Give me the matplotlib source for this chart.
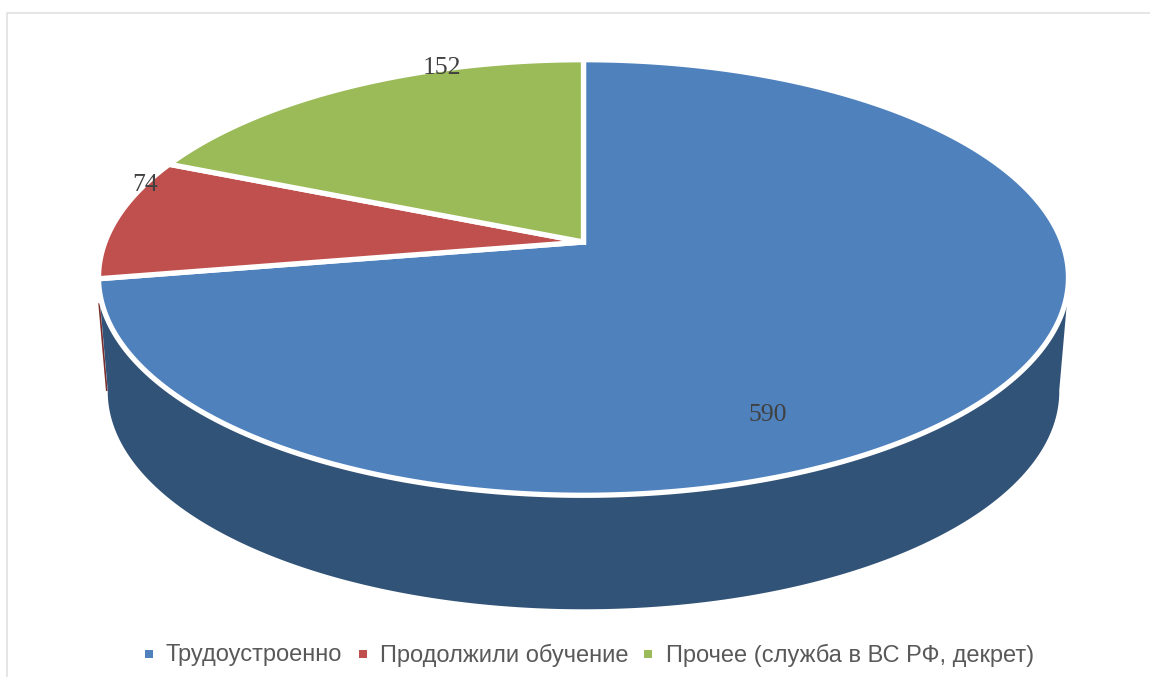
#!/usr/bin/env python3
import numpy as np
import matplotlib
matplotlib.use('Agg')
import matplotlib.pyplot as plt

# Chart data
categories = ['Трудоустроенно', 'Продолжили обучение', 'Прочее (служба в ВС РФ, декрет)']
values = [590, 74, 152]
colors = ['#4f81bd', '#c0504d', '#9bbb59']
wall_color = '#325378'
wall_red = '#7a2e2c'

# Pie geometry in image pixels
APEX_X, APEX_Y = 583.5, 242
PERSP = 0.163
RX = 478.5
RY = 212
WALL_DEPTH = 114
label_pos = [(768, 415), (145, 185), (442, 68)]
legend_marker_x = [149, 363, 648]
legend_text_x = [165, 380, 666]
legend_y = 654


def project(theta):
    # theta runs clockwise from twelve o'clock, tilted circle with some perspective
    u = np.sin(theta)
    v = np.cos(theta)
    d = 1 + PERSP * v
    return APEX_X + RX * u / d, APEX_Y - RY * v / d


fig = plt.figure(figsize=(11.5, 6.77), dpi=100)
ax = fig.add_axes([0, 0, 1, 1])
ax.set_xlim(0, 1150)
ax.set_ylim(677, 0)
ax.axis('off')

# Chart frame
ax.plot([7, 7, 1150], [677, 13, 13], color='#e0e0e0', lw=1.2, zorder=1)

# Side wall: rim of the front half joined to the same rim pushed down
theta = np.linspace(np.pi * 0.59, np.pi * 1.41, 300)
rim_x, rim_y = project(theta)
rim_x = APEX_X + (rim_x - APEX_X) * 1.004
low = np.linspace(np.pi * 0.5, np.pi * 1.5, 300)
low_x, low_y = project(low)
low_x = APEX_X + (low_x - APEX_X) * 0.981
low_y = low_y + WALL_DEPTH
keep = low_y > 390
ax.plot([rim_x[-1] - 1, low_x[keep][-1] - 1], [rim_y[-1], low_y[keep][-1]],
        color=wall_red, lw=1.2, zorder=2)
ax.fill(np.r_[rim_x, low_x[keep][::-1]], np.r_[rim_y, low_y[keep][::-1]],
        color=wall_color, lw=0, zorder=3)

# Top face, slices go clockwise from twelve o'clock
angles = np.cumsum([0] + values) / sum(values) * 2 * np.pi
for i in range(len(values)):
    t = np.linspace(angles[i], angles[i + 1], 300)
    x, y = project(t)
    ax.fill(np.r_[APEX_X, x], np.r_[APEX_Y, y], facecolor=colors[i],
            edgecolor='white', lw=3.8, joinstyle='miter', zorder=4)

for v, (lx, ly) in zip(values, label_pos):
    ax.text(lx, ly, str(v), family='Liberation Serif', fontsize=18.5, color='#404040',
            ha='center', va='center', zorder=5)

# Legend
for i, cat in enumerate(categories):
    ax.plot(legend_marker_x[i], legend_y, 's', color=colors[i], ms=6, mew=0, zorder=5)
    ax.text(legend_text_x[i], legend_y + 1.5, cat, family='Liberation Sans', fontsize=17,
            color='#595959', ha='left', va='center', zorder=5)

plt.savefig('out.png', dpi=100)
